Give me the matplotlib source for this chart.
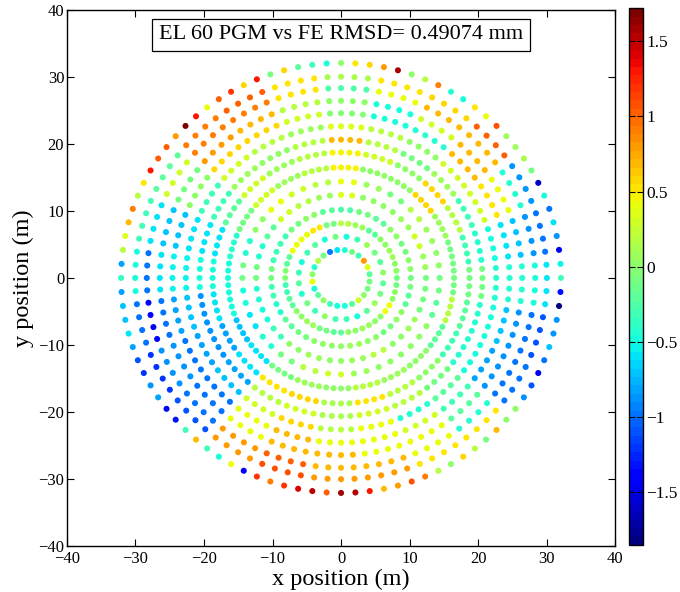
import numpy as np
import matplotlib
matplotlib.use('Agg')
import matplotlib.pyplot as plt

plt.rcParams['font.family'] = ['Liberation Serif', 'DejaVu Serif']

# ring layout of the points (m), points per ring, angle of first point (deg)
ring_radius = [4.2, 6.2, 8.15, 10.2, 12.4, 14.4, 16.5, 18.75, 20.65, 22.65,
               24.6, 26.45, 28.35, 30.05, 32.1]
ring_count = [24, 24, 48, 48, 48, 48, 96, 96, 96, 96, 96, 96, 96, 96, 96]
ring_start = [7.5, 7.5, 0, 0, 0, 0, 0, 0, 0, 0, 0, 0, 0, 0, 0]

# deviation (mm) read off per ring, going counter-clockwise from +x
# inner rings: one value per 15 deg sector, outer ring: one per point
ring_values = [
    [-0.2, 0.35, 0.8, -0.3, -0.1, -0.4, -0.6, -1.0, -0.1, 0.2, -0.4, 0.0,
     0.4, -0.5, -0.2, 0.0, -0.3, -0.5, -0.5, -0.2, 0.3, 0.0, -0.1, -0.1],
    [0.0, -0.2, -0.1, 0.1, -0.3, -0.5, -0.1, -0.5, -0.2, -0.3, -0.5, -0.3,
     -0.2, -0.4, -0.1, -0.3, 0.0, -0.3, -0.3, -0.5, -0.2, 0.1, -0.1, -0.2],
    [-0.1, 0.0, 0.1, 0.0, -0.2, 0.1, 0.2, -0.1, 0.5, 0.4, 0.4, -0.2,
     -0.05, -0.3, -0.2, 0.0, 0.1, -0.1, -0.2, 0.0, 0.1, 0.0, 0.4, 0.0],
    [-0.1, 0.0, -0.1, 0.0, -0.2, -0.1, -0.25, -0.2, 0.0, -0.1, -0.3, -0.3,
     -0.1, -0.3, -0.4, -0.2, -0.1, 0.0, 0.0, 0.1, 0.0, -0.1, 0.0, -0.2],
    [-0.1, 0.1, 0.3, 0.1, 0.0, 0.0, 0.35, 0.1, 0.2, 0.3, -0.2, -0.4,
     -0.1, -0.4, -0.5, -0.3, 0.0, 0.1, 0.0, 0.1, 0.2, 0.0, 0.1, -0.1],
    [-0.1, 0.0, 0.1, 0.2, -0.1, 0.1, 0.4, 0.2, 0.3, 0.4, 0.0, -0.4,
     -0.1, -0.5, -0.6, -0.4, -0.1, 0.2, 0.3, 0.1, 0.0, 0.0, 0.0, -0.2],
    [-0.1, -0.1, 0.1, 0.6, 0.0, 0.0, 0.45, 0.2, 0.1, 0.3, -0.1, -0.4,
     -0.5, -0.5, -0.7, -0.6, -0.1, 0.1, 0.0, 0.2, 0.1, 0.0, -0.2, 0.2],
    [-0.1, -0.3, 0.2, 0.6, 0.0, 0.3, 0.45, 0.2, 0.1, 0.3, -0.2, -0.6,
     -0.5, -0.6, -0.8, -0.6, 0.5, 0.6, 0.15, 0.5, 0.2, 0.0, -0.3, -0.2],
    [-0.1, -0.4, -0.3, 0.1, -0.1, 0.2, 0.7, 0.2, 0.0, 0.1, -0.3, -0.6,
     -0.5, -0.9, -0.9, -0.8, 0.2, 0.3, 0.15, 0.3, 0.2, -0.1, -0.4, -0.4],
    [-0.45, -0.5, 0.3, 0.3, 0.0, 0.2, 0.35, 0.1, 0.2, 0.3, -0.3, -0.6,
     -0.55, -0.7, -0.8, -0.7, 0.3, 0.6, 0.2, 0.4, -0.4, -0.2, -0.5, -0.5],
    [-0.45, -0.6, 0.5, 0.7, -0.4, -0.5, -0.05, 0.3, 0.6, 0.6, 0.0, -0.7,
     -0.55, -0.8, -1.0, -1.0, 0.4, 0.7, 0.4, 0.4, 0.3, -0.3, -0.8, -0.7],
    [-0.45, -0.7, 0.4, 0.7, 0.3, -0.5, 0.0, 0.2, 0.7, 0.8, -0.1, -0.7,
     -0.6, -1.0, -0.9, -1.0, 0.4, 0.7, 0.7, 0.4, 0.4, -0.2, -0.9, -0.9],
    [-0.5, -0.9, -0.4, 0.7, 0.7, 0.4, -0.25, 0.5, 0.9, 0.9, 0.3, -0.6,
     -1.0, -1.4, -0.9, -1.0, 0.8, 1.0, 0.7, 0.7, 0.4, -0.4, -1.0, -1.0],
    [-0.6, -1.0, -0.9, 1.0, 0.6, 0.5, 0.15, 0.5, 1.0, 0.9, -0.2, -0.3,
     -0.5, -1.0, -1.2, -1.1, 0.8, 1.1, 0.8, 0.8, 0.5, 0.5, -1.0, -1.1],
    [-0.3, -0.55, -1.5, -0.9, -0.6, -1.0, -0.5, -1.6, -0.1, 0.15, 0.1, 0.1,
     1.1, 0.4, 0.5, -0.5, -0.45, 0.9, 0.2, 0.0, 1.6, 0.8, 0.6, 0.5,
     0.0, -0.5, -0.3, -0.2, 0.6, -0.1, 1.3, 0.6, 1.2, 1.0, 0.4, 1.3,
     1.7, 0.8, 1.0, 1.0, 1.3, 0.5, 0.2, 0.9, 0.7, 0.35, 0.2, -0.8,
     -0.35, -0.8, -0.7, -0.7, -0.6, -0.8, -1.1, -1.2, -0.9, -0.8, -1.4, -1.3,
     -0.3, 0.7, -0.3, -0.5, 0.4, -1.4, 1.2, 0.9, 1.2, 1.4, 1.5, 1.0,
     1.6, 1.5, 1.3, 0.7, 0.8, 1.1, 0.9, 0.2, 0.0, 0.6, 0.2, -0.1,
     0.7, 0.0, 0.0, -0.9, -1.1, -1.5, -1.0, -0.7, -0.9, -0.9, -1.8, -1.3],
]

title_text = 'EL 60 PGM vs FE RMSD= 0.49074 mm'
c_min, c_max = -1.85, 1.72

xs, ys, vals = [], [], []
for r, n, a0, v in zip(ring_radius, ring_count, ring_start, ring_values):
    m = len(v)
    for i in range(n):
        th = np.deg2rad(a0 + 360.0 * i / n)
        xs.append(r * np.cos(th))
        ys.append(r * np.sin(th))
        vals.append(v[((2 * i * m + n) // (2 * n)) % m])

fig = plt.figure(figsize=(6.8, 5.92), dpi=100)
ax = fig.add_axes([0.0985, 0.078, 0.806, 0.905])
cax = fig.add_axes([0.925, 0.080, 0.021, 0.906])

sc = ax.scatter(xs, ys, c=vals, s=19, cmap=plt.get_cmap('jet', 64),
                vmin=c_min, vmax=c_max, edgecolors='none')

ax.set_xlim(-40, 40)
ax.set_ylim(-40, 40)
ax.set_xticks(np.arange(-40, 41, 10))
ax.set_yticks(np.arange(-40, 41, 10))
ax.tick_params(direction='in', top=True, right=True, length=5, width=0.8,
               labelsize=12, pad=2)
ax.tick_params(axis='x', pad=4)
for sp in ax.spines.values():
    sp.set_linewidth(1.0)
ax.set_xlabel('x position (m)', fontsize=17.5, labelpad=1)
ax.set_ylabel('y position (m)', fontsize=17.5, labelpad=3)

ax.text(0, 36.3, title_text, ha='center', va='center', fontsize=16,
        bbox=dict(boxstyle='square,pad=0.3', fc='white', ec='black', lw=0.9))

cb = fig.colorbar(sc, cax=cax)
cb.set_ticks([-1.5, -1, -0.5, 0, 0.5, 1, 1.5])
cb.set_ticklabels(['\u22121.5', '\u22121', '\u22120.5', '0', '0.5', '1', '1.5'])
cax.tick_params(direction='in', left=True, right=True, length=4, width=0.8,
                labelsize=12.5, pad=2)
cb.outline.set_linewidth(1.0)

fig.savefig('out.png', dpi=100)
